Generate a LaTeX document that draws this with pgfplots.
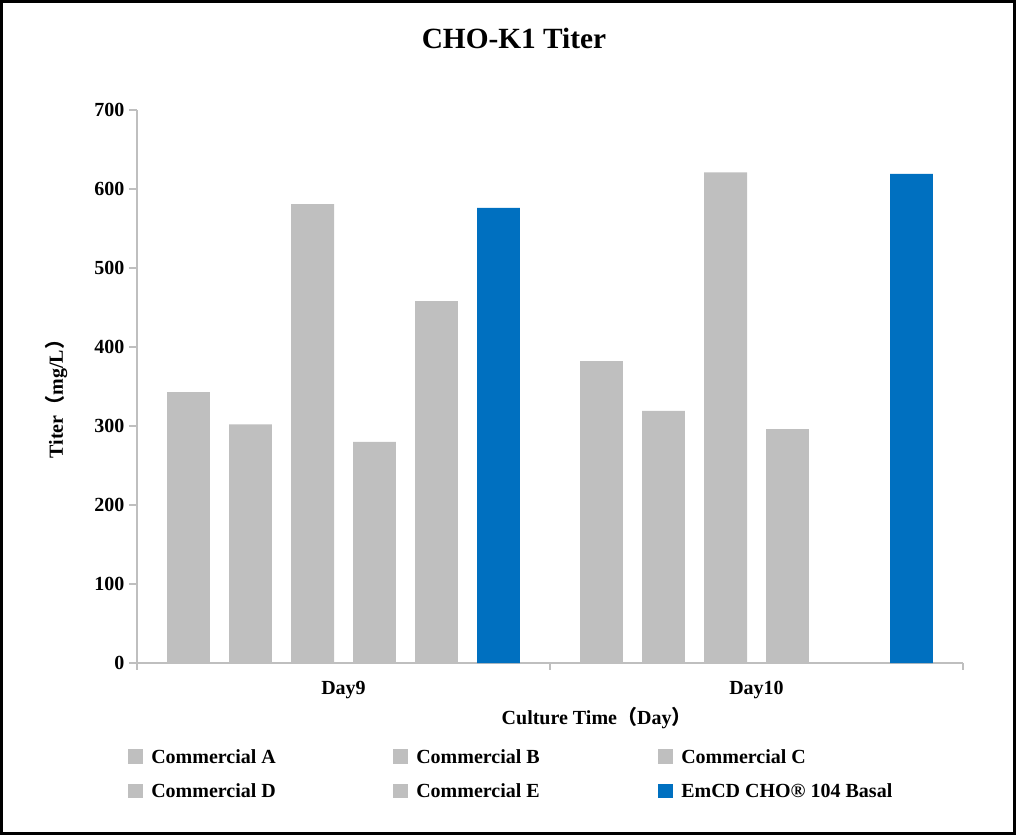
\documentclass[border=0pt]{standalone}
\usepackage{fontspec}
\setmainfont{Liberation Serif}
\newfontfamily\cjk{Noto Sans CJK SC}
\usepackage{pgfplots}
\pgfplotsset{compat=1.18}
\definecolor{cgray}{HTML}{BFBFBF}
\definecolor{cblue}{HTML}{0070C0}
\definecolor{axgray}{HTML}{BFBFBF}
\pgfplotsset{sq/.style={fill=#1, draw=none,
    legend image code/.code={\fill[#1] (0pt,-5.6pt) rectangle (11.25pt,5.6pt);}}}
\begin{document}
\begin{tikzpicture}
\begin{axis}[
  at={(0pt,0pt)}, anchor=south west,
  scale only axis, width=619.5pt, height=414.75pt,
  ybar, bar width=0.104,
  xmin=-0.5, xmax=1.5, ymin=0, ymax=700,
  axis lines*=left,
  axis line style={draw=axgray, line width=1.2pt},
  tick align=outside, major tick length=6pt, minor tick length=5pt,
  ytick={0,100,...,700},
  y tick style={draw=axgray, line width=1.2pt},
  xtick={0,1}, xticklabels={Day9,Day10},
  minor xtick={-0.5,0.5,1.5},
  major x tick style={draw=none},
  minor x tick style={draw=axgray, line width=1.2pt},
  ticklabel style={font=\fontsize{15}{18}\selectfont\bfseries},
  /pgf/number format/assume math mode=true,
  xticklabel style={anchor=base, yshift=-17.5pt},
  title={CHO-K1 Titer},
  title style={font=\fontsize{22}{26}\selectfont\bfseries,
    at={(axis description cs:0.4564,1.0976)}, anchor=base},
  xlabel={Culture Time{\cjk （}Day{\cjk ）}},
  xlabel style={font=\fontsize{15}{18}\selectfont\bfseries,
    at={(axis description cs:0.4358,-0.1121)}, anchor=base west},
  ylabel={Titer{\cjk （}mg/L{\cjk ）}},
  ylabel style={font=\fontsize{15}{18}\selectfont\bfseries,
    at={(axis description cs:-0.0896,0.3615)}, anchor=base west},
  legend columns=3,
  legend cell align=left,
  legend style={draw=none, fill=none, inner sep=0pt,
    at={(axis description cs:-0.0109,-0.1555)}, anchor=north west,
    font=\fontsize{15}{18}\selectfont\bfseries,
    nodes={inner sep=0pt, text height=10.5pt, text depth=0pt},
    /tikz/every odd column/.append style={column sep=6pt},
    row sep=14.5pt},
]
\addplot[sq=cgray, bar shift=-0.3753] coordinates {(0,343) (1,382)};
\addlegendentry{\makebox[181.5pt][l]{Commercial A}}
\addplot[sq=cgray, bar shift=-0.2252] coordinates {(0,302) (1,319)};
\addlegendentry{\makebox[181.5pt][l]{Commercial B}}
\addplot[sq=cgray, bar shift=-0.0750] coordinates {(0,581) (1,621)};
\addlegendentry{\makebox[181.5pt][l]{Commercial C}}
\addplot[sq=cgray, bar shift=0.0750] coordinates {(0,280) (1,296)};
\addlegendentry{\makebox[181.5pt][l]{Commercial D}}
\addplot[sq=cgray, bar shift=0.2252] coordinates {(0,458)};
\addlegendentry{\makebox[181.5pt][l]{Commercial E}}
\addplot[sq=cblue, bar shift=0.3753] coordinates {(0,576) (1,619)};
\addlegendentry{\makebox[181.5pt][l]{EmCD CHO® 104 Basal}}
\end{axis}
\draw[line width=2.25pt] (-101.625pt,-127.875pt) rectangle (658.125pt,496.125pt);
\pgfresetboundingbox
\useasboundingbox (-102.75pt,-129pt) rectangle (659.25pt,497.25pt);
\end{tikzpicture}
\end{document}
